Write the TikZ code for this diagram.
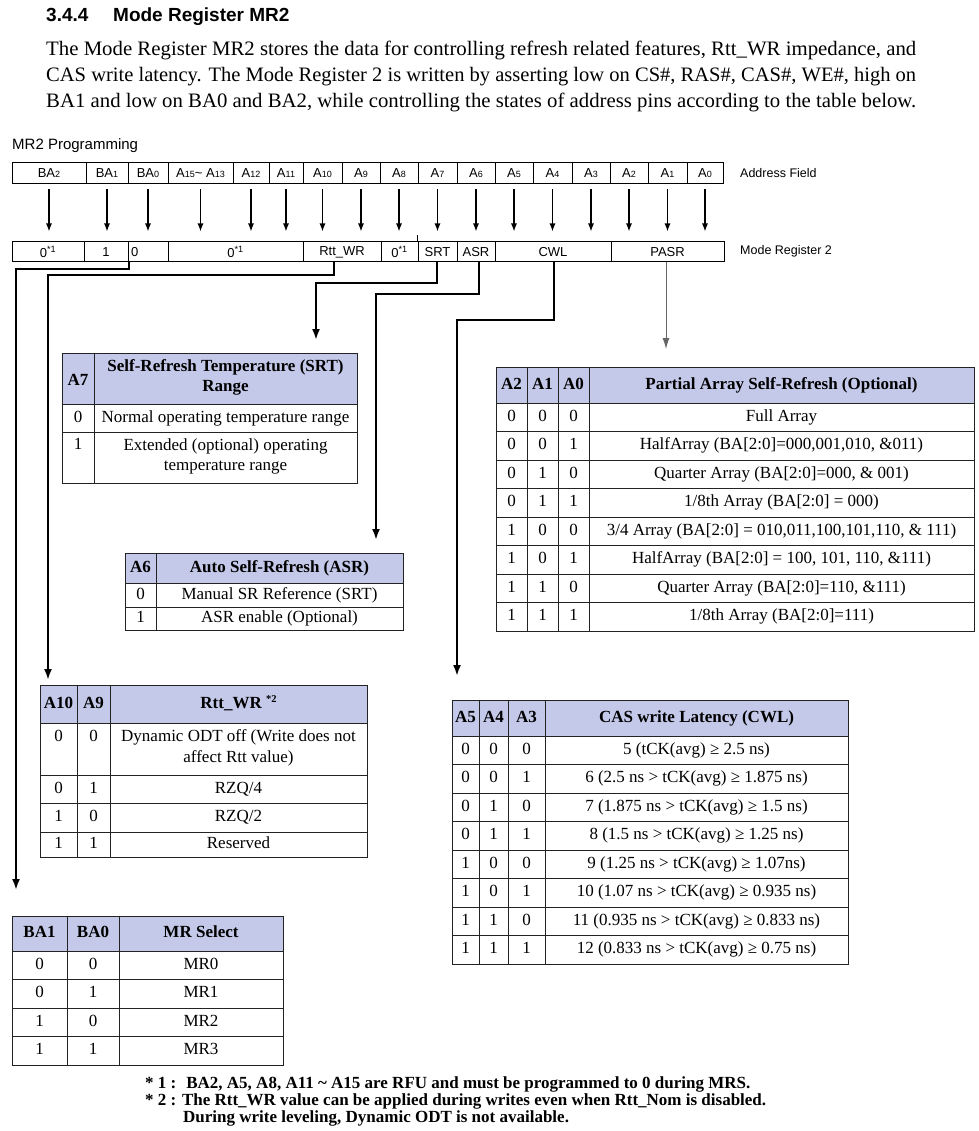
\documentclass[tikz,border=0pt]{standalone}
\usepackage{fontspec}
\usepackage{graphicx}
\setmainfont{Liberation Serif}
\setsansfont{Liberation Sans}
\usetikzlibrary{arrows.meta}
\definecolor{hdrfill}{RGB}{196,201,233}
\definecolor{tline}{RGB}{35,35,35}
\newcommand\dg[1]{{\fontsize{9}{9}\selectfont #1}}
\newcommand\fitline[1]{\resizebox{870pt}{\height}{#1}}
\newcommand\cellat[7][cellbox]{%
 \pgfmathsetmacro\mycw{(#5)-(#3)}\pgfmathsetmacro\mych{(#6)-(#4)}%
 \pgfmathsetmacro\mycx{((#3)+(#5))/2}\pgfmathsetmacro\mycy{((#4)+(#6))/2}%
 \node[#1,minimum width=\mycw pt,minimum height=\mych pt] (#2) at (\mycx,\mycy) {#7};}
\begin{document}
\begin{tikzpicture}[x=1pt,y=-1pt,
  cellbox/.style={draw=tline,line width=1pt,inner sep=0pt,align=center,font=\fontsize{17}{20.5}\selectfont,
    execute at begin node={\strut}, execute at end node={\strut}},
  hdrcell/.style={cellbox,fill=hdrfill,font=\fontsize{17}{20.5}\selectfont\bfseries},
  regcell/.style={draw=black,line width=1pt,inner sep=0pt,align=center,font=\sffamily\fontsize{13}{15}\selectfont},
  addrarrow/.style={line width=1.2pt,-{Latex[length=8pt,width=6pt]},shorten <=5pt,shorten >=10pt},
  conn/.style={line width=2pt,-{Latex[length=11pt,width=8pt]}},
  thinconn/.style={line width=0.9pt,draw=black!60,-{Latex[length=11pt,width=7pt]}},
  plain/.style={inner sep=0pt,anchor=base west}]
\useasboundingbox (0,0) rectangle (978,1131);
\fill[white] (0,0) rectangle (978,1131);

% heading and paragraph
\node[plain,font=\sffamily\bfseries\fontsize{19}{21}\selectfont] (h1) at (46,22) {3.4.4};
\node[plain,font=\sffamily\bfseries\fontsize{19}{21}\selectfont] (h2) at (113,22) {Mode Register MR2};
\node[plain,font=\fontsize{20.5}{24}\selectfont] (p1) at (46,56) {\fitline{The Mode Register MR2 stores the data for controlling refresh related features, Rtt\_WR impedance, and}};
\node[plain,font=\fontsize{20.5}{24}\selectfont] (p2) at (46,82) {\fitline{CAS write latency. The Mode Register 2 is written by asserting low on CS\#, RAS\#, CAS\#, WE\#, high on}};
\node[plain,font=\fontsize{20.5}{24}\selectfont] (p3) at (46,108) {\fitline{BA1 and low on BA0 and BA2, while controlling the states of address pins according to the table below.}};
\node[plain,font=\sffamily\fontsize{15}{17}\selectfont] (prog) at (12,150) {MR2 Programming};

% address field
\cellat[regcell]{a-ba2}{12}{163}{86}{184}{BA\dg{2}}
\cellat[regcell]{a-ba1}{86}{163}{128}{184}{BA\dg{1}}
\cellat[regcell]{a-ba0}{128}{163}{168}{184}{BA\dg{0}}
\cellat[regcell]{a-a15}{168}{163}{233}{184}{A\dg{15}\textasciitilde{} A\dg{13}}
\cellat[regcell]{a-a12}{233}{163}{269}{184}{A\dg{12}}
\cellat[regcell]{a-a11}{269}{163}{303}{184}{A\dg{11}}
\cellat[regcell]{a-a10}{303}{163}{342}{184}{A\dg{10}}
\cellat[regcell]{a-a9}{342}{163}{380}{184}{A\dg{9}}
\cellat[regcell]{a-a8}{380}{163}{418}{184}{A\dg{8}}
\cellat[regcell]{a-a7}{418}{163}{457}{184}{A\dg{7}}
\cellat[regcell]{a-a6}{457}{163}{495}{184}{A\dg{6}}
\cellat[regcell]{a-a5}{495}{163}{533}{184}{A\dg{5}}
\cellat[regcell]{a-a4}{533}{163}{572}{184}{A\dg{4}}
\cellat[regcell]{a-a3}{572}{163}{610}{184}{A\dg{3}}
\cellat[regcell]{a-a2}{610}{163}{648}{184}{A\dg{2}}
\cellat[regcell]{a-a1}{648}{163}{687}{184}{A\dg{1}}
\cellat[regcell]{a-a0}{687}{163}{723}{184}{A\dg{0}}
\node[plain,font=\sffamily\fontsize{12.5}{14}\selectfont] (afl) at (740,178) {Address Field};

% mode register row
\cellat[regcell]{m-ba2}{12}{242}{84}{262}{0\textsuperscript{*1}}
\cellat[regcell]{m-ba1}{84}{242}{128}{262}{1}
\cellat[regcell]{m-ba0}{128}{242}{168}{262}{\makebox[34pt][l]{0}}
\cellat[regcell]{m-a15}{168}{242}{303}{262}{0\textsuperscript{*1}}
\cellat[regcell]{m-rtt}{303}{242}{381}{262}{Rtt\_WR}
\cellat[regcell]{m-a8}{381}{242}{418}{262}{0\textsuperscript{*1}}
\cellat[regcell]{m-srt}{418}{242}{457}{262}{SRT}
\cellat[regcell]{m-asr}{457}{242}{495}{262}{ASR}
\cellat[regcell]{m-cwl}{495}{242}{611}{262}{CWL}
\cellat[regcell]{m-pasr}{611}{242}{724}{262}{PASR}
\draw[line width=1pt] (m-srt.north west) -- ++(0,-6);
\node[plain,font=\sffamily\fontsize{12.5}{14}\selectfont] (mrl) at (740,255) {Mode Register 2};

% address arrows
\foreach \n/\m in {ba2/ba2,ba1/ba1,ba0/ba0,a15/a15,a12/a15,a11/a15,a10/rtt,a9/rtt,a8/a8,a7/srt,a6/asr,a5/cwl,a4/cwl,a3/cwl,a2/pasr,a1/pasr,a0/pasr}
  \draw[addrarrow] (a-\n.south) -- (a-\n.south |- m-\m.north);

% connector ends
\coordinate (tipBA) at (16,890);
\coordinate (tipRtt) at (48,680);
\coordinate (tipSRT) at (316,340);
\coordinate (tipASR) at (376,540);
\coordinate (tipCWL) at (457,676);
\coordinate (tipPASR) at (666,349);
\draw[conn] (m-ba1.south east) -- ++(0,7) -| (tipBA);
\draw[conn] ([xshift=-8pt]m-rtt.south) -- ++(0,13) -| (tipRtt);
\draw[conn] ([xshift=-1pt]m-srt.south) -- ++(0,21) -| (tipSRT);
\draw[conn] ([xshift=3pt]m-asr.south) -- ++(0,32) -| (tipASR);
\draw[conn] ([xshift=1pt]m-cwl.south) -- ++(0,57) -| (tipCWL);
\draw[thinconn] (tipPASR |- m-pasr.south) -- (tipPASR);

% SRT table
\cellat[hdrcell]{srt-h1}{62}{353}{94}{404}{\mbox{}\\A7}
\cellat[hdrcell]{srt-h2}{94}{353}{357}{404}{Self-Refresh Temperature (SRT)\\Range}
\cellat{srt-1a}{62}{404}{94}{432}{0}
\cellat{srt-1b}{94}{404}{357}{432}{Normal operating temperature range}
\cellat{srt-2a}{62}{432}{94}{483}{1\\\mbox{}}
\cellat{srt-2b}{94}{432}{357}{483}{Extended (optional) operating\\temperature range}

% PASR table
\cellat[hdrcell]{pasr-h1}{496}{367}{527}{403}{A2}
\cellat[hdrcell]{pasr-h2}{527}{367}{558}{403}{A1}
\cellat[hdrcell]{pasr-h3}{558}{367}{589}{403}{A0}
\cellat[hdrcell]{pasr-h4}{589}{367}{974}{403}{Partial Array Self-Refresh (Optional)}
\foreach \a/\b/\c/\t [count=\i] in {0/0/0/{Full Array},
  0/0/1/{HalfArray (BA[2:0]=000,001,010, \&011)},
  0/1/0/{Quarter Array (BA[2:0]=000, \& 001)},
  0/1/1/{1/8th Array (BA[2:0] = 000)},
  1/0/0/{3/4 Array (BA[2:0] = 010,011,100,101,110, \& 111)},
  1/0/1/{HalfArray (BA[2:0] = 100, 101, 110, \&111)},
  1/1/0/{Quarter Array (BA[2:0]=110, \&111)},
  1/1/1/{1/8th Array (BA[2:0]=111)}}{
  \cellat{pasr-\i-a}{496}{403+(\i-1)*28.5}{527}{403+\i*28.5}{\a}
  \cellat{pasr-\i-b}{527}{403+(\i-1)*28.5}{558}{403+\i*28.5}{\b}
  \cellat{pasr-\i-c}{558}{403+(\i-1)*28.5}{589}{403+\i*28.5}{\c}
  \cellat{pasr-\i-d}{589}{403+(\i-1)*28.5}{974}{403+\i*28.5}{\t}
}

% ASR table
\cellat[hdrcell]{asr-h1}{125}{553}{156}{583}{A6}
\cellat[hdrcell]{asr-h2}{156}{553}{403}{583}{Auto Self-Refresh (ASR)}
\cellat{asr-1a}{125}{583}{156}{607}{0}
\cellat{asr-1b}{156}{583}{403}{607}{Manual SR Reference (SRT)}
\cellat{asr-2a}{125}{607}{156}{630}{1}
\cellat{asr-2b}{156}{607}{403}{630}{ASR enable (Optional)}

% Rtt_WR table
\cellat[hdrcell]{rtt-h1}{40}{685}{77}{723}{A10}
\cellat[hdrcell]{rtt-h2}{77}{685}{110}{723}{A9}
\cellat[hdrcell]{rtt-h3}{110}{685}{367}{723}{Rtt\_WR \raisebox{6pt}{\fontsize{10.5}{10.5}\selectfont *2}}
\cellat{rtt-1a}{40}{723}{77}{775}{0\\\mbox{}}
\cellat{rtt-1b}{77}{723}{110}{775}{0\\\mbox{}}
\cellat{rtt-1c}{110}{723}{367}{775}{Dynamic ODT off (Write does not\\affect Rtt value)}
\cellat{rtt-2a}{40}{775}{77}{803}{0}
\cellat{rtt-2b}{77}{775}{110}{803}{1}
\cellat{rtt-2c}{110}{775}{367}{803}{RZQ/4}
\cellat{rtt-3a}{40}{803}{77}{832}{1}
\cellat{rtt-3b}{77}{803}{110}{832}{0}
\cellat{rtt-3c}{110}{803}{367}{832}{RZQ/2}
\cellat{rtt-4a}{40}{832}{77}{857}{1}
\cellat{rtt-4b}{77}{832}{110}{857}{1}
\cellat{rtt-4c}{110}{832}{367}{857}{Reserved}

% CWL table
\cellat[hdrcell]{cwl-h1}{452}{700}{479}{736}{A5}
\cellat[hdrcell]{cwl-h2}{479}{700}{508}{736}{A4}
\cellat[hdrcell]{cwl-h3}{508}{700}{545}{736}{A3}
\cellat[hdrcell]{cwl-h4}{545}{700}{848}{736}{CAS write Latency (CWL)}
\foreach \a/\b/\c/\t [count=\i] in {0/0/0/{5 (tCK(avg) ≥ 2.5 ns)},
  0/0/1/{6 (2.5 ns > tCK(avg) ≥ 1.875 ns)},
  0/1/0/{7 (1.875 ns > tCK(avg) ≥ 1.5 ns)},
  0/1/1/{8 (1.5 ns > tCK(avg) ≥ 1.25 ns)},
  1/0/0/{9 (1.25 ns > tCK(avg) ≥ 1.07ns)},
  1/0/1/{10 (1.07 ns > tCK(avg) ≥ 0.935 ns)},
  1/1/0/{11 (0.935 ns > tCK(avg) ≥ 0.833 ns)},
  1/1/1/{12 (0.833 ns > tCK(avg) ≥ 0.75 ns)}}{
  \cellat{cwl-\i-a}{452}{736+(\i-1)*28.5}{479}{736+\i*28.5}{\a}
  \cellat{cwl-\i-b}{479}{736+(\i-1)*28.5}{508}{736+\i*28.5}{\b}
  \cellat{cwl-\i-c}{508}{736+(\i-1)*28.5}{545}{736+\i*28.5}{\c}
  \cellat{cwl-\i-d}{545}{736+(\i-1)*28.5}{848}{736+\i*28.5}{\t}
}

% MR select table
\cellat[hdrcell]{mr-h1}{12}{916}{67}{951}{BA1}
\cellat[hdrcell]{mr-h2}{67}{916}{119}{951}{BA0}
\cellat[hdrcell]{mr-h3}{119}{916}{283}{951}{MR Select}
\foreach \a/\b/\t [count=\i] in {0/0/MR0,0/1/MR1,1/0/MR2,1/1/MR3}{
  \cellat{mr-\i-a}{12}{951+(\i-1)*28.5}{67}{951+\i*28.5}{\a}
  \cellat{mr-\i-b}{67}{951+(\i-1)*28.5}{119}{951+\i*28.5}{\b}
  \cellat{mr-\i-c}{119}{951+(\i-1)*28.5}{283}{951+\i*28.5}{\t}
}

% footnotes
\node[plain,font=\bfseries\fontsize{17}{18}\selectfont] (fn1) at (145,1088) {* 1 :\hspace{10pt}BA2, A5, A8, A11 \textasciitilde{} A15 are RFU and must be programmed to 0 during MRS.};
\node[plain,font=\bfseries\fontsize{17}{18}\selectfont] (fn2) at (145,1105) {* 2 : The Rtt\_WR value can be applied during writes even when Rtt\_Nom is disabled.};
\node[plain,font=\bfseries\fontsize{17}{18}\selectfont] (fn3) at (183,1122) {During write leveling, Dynamic ODT is not available.};
\end{tikzpicture}
\end{document}
